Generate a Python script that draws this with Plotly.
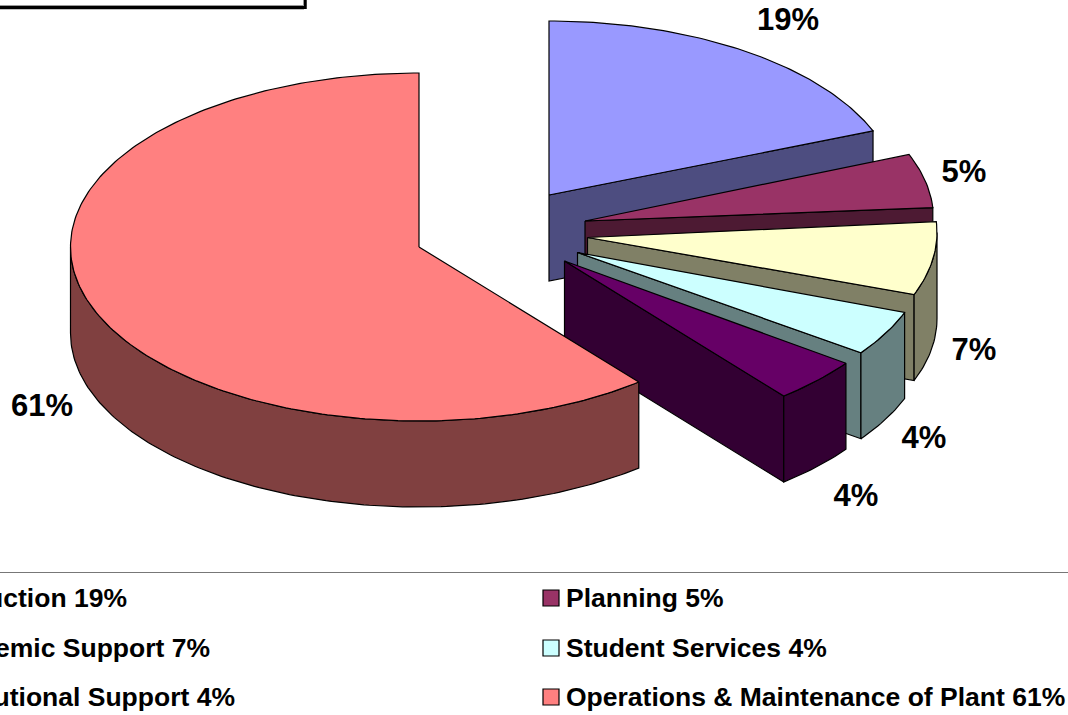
import numpy as np
import plotly.graph_objects as go

# ---- data ----
categories = ["Instruction", "Planning", "Academic Support", "Student Services",
              "Institutional Support", "Operations & Maintenance of Plant"]
values = [19.0, 5.0, 6.8, 4.2, 4.14, 60.86]
percent_labels = ["19%", "5%", "7%", "4%", "4%", "61%"]
top_colors = ["#9999FF", "#993366", "#FFFFCC", "#CCFFFF", "#660066", "#FF8080"]
side_colors = ["#4D4D80", "#4D1A33", "#808066", "#668080", "#330033", "#804040"]

# ---- pie geometry (page pixels) ----
RX, RY, DEPTH = 348.5, 174, 86
apex = [(549, 195), (585, 221), (587.5, 237.5), (577.5, 252.5), (564.5, 261), (419, 247)]
arc_centre = [(549, 195), (585, 218.5), (588.5, 232.5), (579, 250.5), (564, 261), (419, 247)]
label_pos = [(788, 22), (964, 174), (974, 352), (924, 440), (856, 498), (42, 408)]
legend_pos = [(127, 600, "middle left"), (566, 600, "middle right"),
              (210, 650, "middle left"), (566, 650, "middle right"),
              (235, 699, "middle left"), (566, 699, "middle right")]
swatch_x = 551
swatch_y_shift = -2

fig = go.Figure()


def poly(xs, ys, color):
    fig.add_trace(go.Scatter(x=xs, y=ys, mode="lines", fill="toself", fillcolor=color,
                             line=dict(color="black", width=1.2), hoverinfo="skip",
                             showlegend=False))


def arc(c, f0, f1):
    t = np.linspace(f0, f1, max(int((f1 - f0) * 400), 2)) * 2 * np.pi
    return c[0] + RX * np.sin(t), c[1] - RY * np.cos(t)


total = sum(values)
cum = np.cumsum([0] + values) / total
for i in range(len(values)):
    f0, f1 = cum[i], cum[i + 1]
    a, c = apex[i], arc_centre[i]
    # radial wall at the slice's trailing edge (faces the viewer when it lies on the right)
    if f1 <= 0.5:
        ex, ey = arc(c, f1, f1)
        poly([a[0], ex[0], ex[0], a[0], a[0]],
             [a[1], ey[0], ey[0] + DEPTH, a[1] + DEPTH, a[1]], side_colors[i])
    # outer curved wall: only the part on the near half of the ellipse
    w0, w1 = max(f0, 0.25), min(f1, 0.75)
    if w1 > w0:
        wx, wy = arc(c, w0, w1)
        poly(list(wx) + list(wx[::-1]) + [wx[0]],
             list(wy) + list(wy[::-1] + DEPTH) + [wy[0]], side_colors[i])
    # top face
    tx, ty = arc(c, f0, f1)
    poly([a[0]] + list(tx) + [a[0]], [a[1]] + list(ty) + [a[1]], top_colors[i])

# data labels
fig.add_trace(go.Scatter(x=[p[0] for p in label_pos], y=[p[1] for p in label_pos],
                         mode="text", text=percent_labels,
                         textposition="middle center", hoverinfo="skip", showlegend=False,
                         textfont=dict(family="Liberation Sans", size=31, color="black",
                                       weight="bold")))

# legend
for i, (name, lab) in enumerate(zip(categories, percent_labels)):
    lx, ly, pos = legend_pos[i]
    fig.add_trace(go.Scatter(x=[lx], y=[ly], mode="text", text=[f"{name} {lab}"],
                             textposition=pos, hoverinfo="skip", showlegend=False,
                             textfont=dict(family="Liberation Sans", size=26.5, color="black",
                                           weight="bold")))
    if pos == "middle right":
        fig.add_trace(go.Scatter(x=[swatch_x], y=[ly + swatch_y_shift], mode="markers",
                                 hoverinfo="skip", showlegend=False,
                                 marker=dict(symbol="square", size=16, color=top_colors[i],
                                             line=dict(color="black", width=1.2))))

fig.update_layout(
    width=1068, height=715, margin=dict(l=0, r=0, t=0, b=0),
    paper_bgcolor="white", plot_bgcolor="white", showlegend=False,
    xaxis=dict(range=[0, 1068], visible=False, fixedrange=True),
    yaxis=dict(range=[715, 0], visible=False, fixedrange=True),
    shapes=[
        dict(type="line", x0=0, x1=1068, y0=572.5, y1=572.5, line=dict(color="#777777", width=1)),
        dict(type="line", x0=0, x1=304, y0=7.5, y1=7.5, line=dict(color="black", width=3.5)),
        dict(type="line", x0=305, x1=305, y0=0, y1=9, line=dict(color="black", width=3.5)),
        dict(type="line", x0=0, x1=303, y0=5.5, y1=5.5, line=dict(color="#999999", width=1)),
        dict(type="line", x0=303.5, x1=303.5, y0=0, y1=6, line=dict(color="#999999", width=1)),
    ],
)
fig.write_html("out.html", config={"displayModeBar": False},
               post_script="document.body.style.margin='0';")
